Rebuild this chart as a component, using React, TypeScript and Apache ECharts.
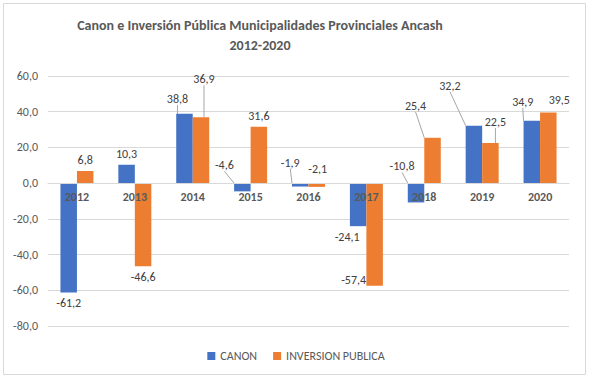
import React, { useEffect, useRef } from "react";
import * as echarts from "echarts";

const categories = ["2012", "2013", "2014", "2015", "2016", "2017", "2018", "2019", "2020"];
const canon = [-61.2, 10.3, 38.8, -4.6, -1.9, -24.1, -10.8, 32.2, 34.9];
const inversion = [6.8, -46.6, 36.9, 31.6, -2.1, -57.4, 25.4, 22.5, 39.5];
const yTicks = { min: -80, max: 60, interval: 20 };

// label displacement (px) relative to the default outside-end position
const canonDx = [0, 0, -7, -18, -10, -11, -14, -24, -9];
const canonDy = [0, 0, -4, -37, -35, 0, -47, -29, -8];
const canonLine = [false, false, true, true, true, false, true, true, true];
const invDx = [0, 0, 3, 0, 1, -21, -17, 5, 11];
const invDy = [0, 0, -27, 0, -29, -17, -21, -10, -2];
const invLine = [false, false, true, false, false, false, true, true, false];

const FONT = "Carlito, 'Liberation Sans Narrow', 'Open Sans', sans-serif";
const fmt = (v: number) => v.toFixed(1).replace(".", ",");

const GRID = { left: 48, right: 23, top: 76, bottom: 53 };
const H = 379;
const plotH = H - GRID.top - GRID.bottom;
const zeroOffset = ((0 - yTicks.min) / (yTicks.max - yTicks.min)) * plotH;

function buildData(vals: number[], lines: boolean[]) {
  return vals.map((v, i) => ({
    value: v,
    label: { position: v < 0 ? "bottom" : "top" },
    labelLine: { show: lines[i] },
  }));
}

export default function App() {
  const ref = useRef<HTMLDivElement>(null);
  useEffect(() => {
    if (!ref.current) return;
    const chart = echarts.init(ref.current, undefined, { renderer: "svg" });
    const labelCommon = {
      show: true,
      distance: 5,
      color: "#404040",
      fontSize: 12,
      fontFamily: FONT,
      formatter: (p: any) => fmt(p.value),
    };
    const lineStyle = { color: "#a6a6a6", width: 1 };
    chart.setOption({
      animation: false,
      backgroundColor: "#fff",
      textStyle: { fontFamily: FONT },
      graphic: [
        {
          type: "rect",
          shape: { x: 3.5, y: 3.5, width: 582, height: 371 },
          style: { fill: "none", stroke: "#d9d9d9", lineWidth: 1 },
          silent: true,
        },
        {
          type: "text",
          x: 260,
          y: 15,
          style: {
            text: "Canon e Inversión Pública Municipalidades Provinciales Ancash\n2012-2020",
            align: "center",
            fill: "#595959",
            font: `bold 14px ${FONT}`,
            lineHeight: 20,
          },
        },
      ],
      legend: {
        bottom: 12,
        left: "center",
        icon: "rect",
        itemWidth: 8,
        itemHeight: 8,
        itemGap: 16,
        textStyle: { color: "#595959", fontSize: 12, fontFamily: FONT },
        data: ["CANON", "INVERSION PUBLICA"],
      },
      grid: GRID,
      xAxis: {
        type: "category",
        data: categories,
        z: 10,
        position: "bottom",
        offset: -zeroOffset,
        axisLine: { onZero: false, lineStyle: { color: "#d9d9d9" } },
        axisTick: { show: false },
        axisLabel: { color: "#595959", fontWeight: "bold", fontSize: 12, margin: 8, fontFamily: FONT },
      },
      yAxis: {
        type: "value",
        min: yTicks.min,
        max: yTicks.max,
        interval: yTicks.interval,
        axisLine: { show: false },
        axisTick: { show: false },
        splitLine: { lineStyle: { color: "#d9d9d9" } },
        axisLabel: { color: "#595959", fontSize: 12, margin: 10, formatter: fmt, fontFamily: FONT },
      },
      series: [
        {
          name: "CANON",
          type: "bar",
          data: buildData(canon, canonLine),
          itemStyle: { color: "#4472C4" },
          barGap: "0%",
          barCategoryGap: "43%",
          label: labelCommon,
          labelLine: { lineStyle },
          labelLayout: (p: any) => ({ dx: canonDx[p.dataIndex], dy: canonDy[p.dataIndex] }),
        },
        {
          name: "INVERSION PUBLICA",
          type: "bar",
          data: buildData(inversion, invLine),
          itemStyle: { color: "#ED7D31" },
          barGap: "0%",
          barCategoryGap: "43%",
          label: labelCommon,
          labelLine: { lineStyle },
          labelLayout: (p: any) => ({ dx: invDx[p.dataIndex], dy: invDy[p.dataIndex] }),
        },
      ],
    });
    return () => chart.dispose();
  }, []);
  return (
    <div
      ref={ref}
      style={{ position: "fixed", left: 0, top: 0, width: 592, height: 379 }}
    />
  );
}
